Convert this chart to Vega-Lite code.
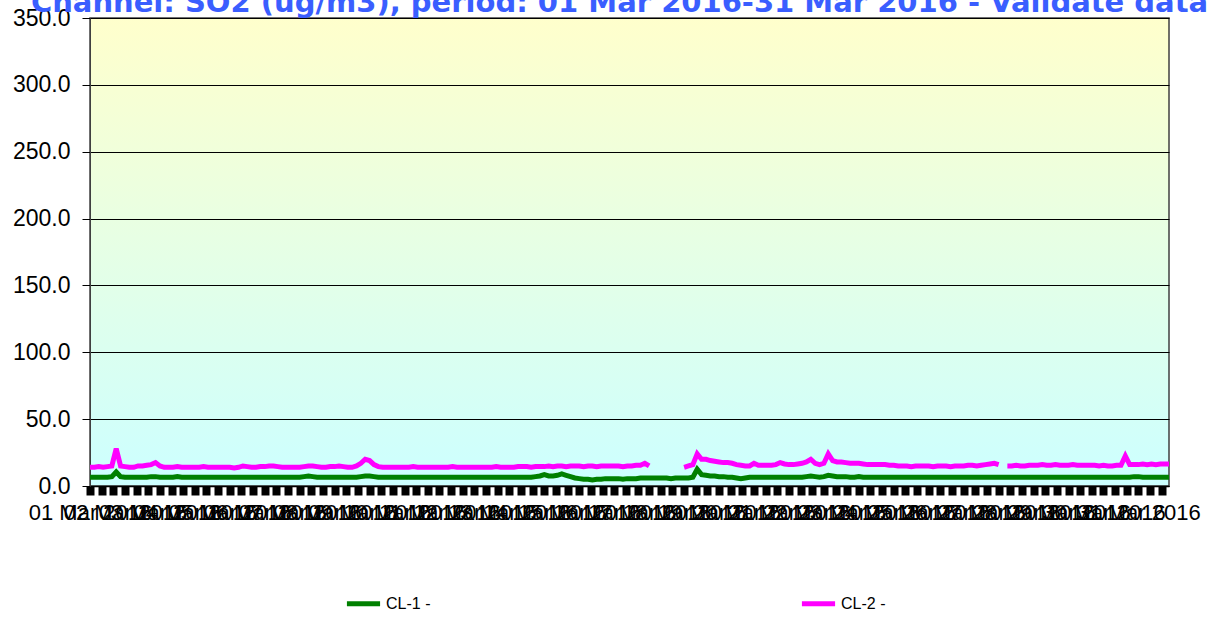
{
  "$schema": "https://vega.github.io/schema/vega-lite/v6.json",
  "width": 1079,
  "height": 468,
  "autosize": {"type": "none"},
  "padding": {"left": 90, "top": 18, "right": 46, "bottom": 132},
  "background": "white",
  "title": {
    "text": "Channel: SO2 (ug/m3), period: 01 Mar 2016-31 Mar 2016 - Validate data",
    "font": "DejaVu Sans",
    "fontSize": 29,
    "fontWeight": "bold",
    "color": "#3a5eff",
    "anchor": "middle",
    "frame": "group",
    "dx": -10,
    "offset": -11
  },
  "config": {
    "view": {
      "stroke": "#404040",
      "strokeWidth": 1.5,
      "fill": {
        "gradient": "linear",
        "x1": 0, "y1": 0, "x2": 0, "y2": 1,
        "stops": [
          {"offset": 0, "color": "#ffffcc"},
          {"offset": 1, "color": "#ccffff"}
        ]
      }
    },
    "axis": {"labelFont": "Liberation Sans", "labelColor": "#000000"}
  },
  "data": {"values": [
    {"t":"2016-03-01T00:00","a":6.5,"b":14},{"t":"2016-03-01T03:00","a":6.5,"b":14},{"t":"2016-03-01T06:00","a":6.5,"b":14.5},{"t":"2016-03-01T09:00","a":6.5,"b":14},{"t":"2016-03-01T12:00","a":6.5,"b":14.5},{"t":"2016-03-01T15:00","a":7,"b":15},{"t":"2016-03-01T18:00","a":10.5,"b":28},{"t":"2016-03-01T21:00","a":7,"b":15},
    {"t":"2016-03-02T00:00","a":6.5,"b":14.5},{"t":"2016-03-02T03:00","a":6.5,"b":14},{"t":"2016-03-02T06:00","a":6.5,"b":14},{"t":"2016-03-02T09:00","a":6.5,"b":15},{"t":"2016-03-02T12:00","a":6.5,"b":15},{"t":"2016-03-02T15:00","a":6.5,"b":15.5},{"t":"2016-03-02T18:00","a":7,"b":16},{"t":"2016-03-02T21:00","a":7,"b":17.5},
    {"t":"2016-03-03T00:00","a":6.5,"b":15},{"t":"2016-03-03T03:00","a":6.5,"b":14},{"t":"2016-03-03T06:00","a":6.5,"b":14},{"t":"2016-03-03T09:00","a":6.5,"b":14},{"t":"2016-03-03T12:00","a":7,"b":14.5},{"t":"2016-03-03T15:00","a":6.5,"b":14},{"t":"2016-03-03T18:00","a":6.5,"b":14},{"t":"2016-03-03T21:00","a":6.5,"b":14},
    {"t":"2016-03-04T00:00","a":6.5,"b":14},{"t":"2016-03-04T03:00","a":6.5,"b":14},{"t":"2016-03-04T06:00","a":6.5,"b":14.5},{"t":"2016-03-04T09:00","a":6.5,"b":14},{"t":"2016-03-04T12:00","a":6.5,"b":14},{"t":"2016-03-04T15:00","a":6.5,"b":14},{"t":"2016-03-04T18:00","a":6.5,"b":14},{"t":"2016-03-04T21:00","a":6.5,"b":14},
    {"t":"2016-03-05T00:00","a":6.5,"b":14},{"t":"2016-03-05T03:00","a":6.5,"b":13.5},{"t":"2016-03-05T06:00","a":6.5,"b":14},{"t":"2016-03-05T09:00","a":6.5,"b":15},{"t":"2016-03-05T12:00","a":6.5,"b":14.5},{"t":"2016-03-05T15:00","a":6.5,"b":14},{"t":"2016-03-05T18:00","a":6.5,"b":14},{"t":"2016-03-05T21:00","a":6.5,"b":14.5},
    {"t":"2016-03-06T00:00","a":6.5,"b":14.5},{"t":"2016-03-06T03:00","a":6.5,"b":15},{"t":"2016-03-06T06:00","a":6.5,"b":15},{"t":"2016-03-06T09:00","a":6.5,"b":14.5},{"t":"2016-03-06T12:00","a":6.5,"b":14},{"t":"2016-03-06T15:00","a":6.5,"b":14},{"t":"2016-03-06T18:00","a":6.5,"b":14},{"t":"2016-03-06T21:00","a":6.5,"b":14},
    {"t":"2016-03-07T00:00","a":6.5,"b":14},{"t":"2016-03-07T03:00","a":7,"b":14.5},{"t":"2016-03-07T06:00","a":7.5,"b":15},{"t":"2016-03-07T09:00","a":7,"b":15},{"t":"2016-03-07T12:00","a":6.5,"b":14.5},{"t":"2016-03-07T15:00","a":6.5,"b":14},{"t":"2016-03-07T18:00","a":6.5,"b":14},{"t":"2016-03-07T21:00","a":6.5,"b":14.5},
    {"t":"2016-03-08T00:00","a":6.5,"b":14.5},{"t":"2016-03-08T03:00","a":6.5,"b":15},{"t":"2016-03-08T06:00","a":6.5,"b":14.5},{"t":"2016-03-08T09:00","a":6.5,"b":14},{"t":"2016-03-08T12:00","a":6.5,"b":14},{"t":"2016-03-08T15:00","a":6.5,"b":15},{"t":"2016-03-08T18:00","a":7,"b":17},{"t":"2016-03-08T21:00","a":7.5,"b":20},
    {"t":"2016-03-09T00:00","a":7.5,"b":19},{"t":"2016-03-09T03:00","a":7,"b":16},{"t":"2016-03-09T06:00","a":6.5,"b":14.5},{"t":"2016-03-09T09:00","a":6.5,"b":14},{"t":"2016-03-09T12:00","a":6.5,"b":14},{"t":"2016-03-09T15:00","a":6.5,"b":14},{"t":"2016-03-09T18:00","a":6.5,"b":14},{"t":"2016-03-09T21:00","a":6.5,"b":14},
    {"t":"2016-03-10T00:00","a":6.5,"b":14},{"t":"2016-03-10T03:00","a":6.5,"b":14},{"t":"2016-03-10T06:00","a":6.5,"b":14.5},{"t":"2016-03-10T09:00","a":6.5,"b":14},{"t":"2016-03-10T12:00","a":6.5,"b":14},{"t":"2016-03-10T15:00","a":6.5,"b":14},{"t":"2016-03-10T18:00","a":6.5,"b":14},{"t":"2016-03-10T21:00","a":6.5,"b":14},
    {"t":"2016-03-11T00:00","a":6.5,"b":14},{"t":"2016-03-11T03:00","a":6.5,"b":14},{"t":"2016-03-11T06:00","a":6.5,"b":14},{"t":"2016-03-11T09:00","a":6.5,"b":14.5},{"t":"2016-03-11T12:00","a":6.5,"b":14},{"t":"2016-03-11T15:00","a":6.5,"b":14},{"t":"2016-03-11T18:00","a":6.5,"b":14},{"t":"2016-03-11T21:00","a":6.5,"b":14},
    {"t":"2016-03-12T00:00","a":6.5,"b":14},{"t":"2016-03-12T03:00","a":6.5,"b":14},{"t":"2016-03-12T06:00","a":6.5,"b":14},{"t":"2016-03-12T09:00","a":6.5,"b":14},{"t":"2016-03-12T12:00","a":6.5,"b":14},{"t":"2016-03-12T15:00","a":6.5,"b":14.5},{"t":"2016-03-12T18:00","a":6.5,"b":14},{"t":"2016-03-12T21:00","a":6.5,"b":14},
    {"t":"2016-03-13T00:00","a":6.5,"b":14},{"t":"2016-03-13T03:00","a":6.5,"b":14},{"t":"2016-03-13T06:00","a":6.5,"b":14.5},{"t":"2016-03-13T09:00","a":6.5,"b":14.5},{"t":"2016-03-13T12:00","a":6.5,"b":14.5},{"t":"2016-03-13T15:00","a":6.5,"b":14},{"t":"2016-03-13T18:00","a":7,"b":14.5},{"t":"2016-03-13T21:00","a":7.5,"b":14.5},
    {"t":"2016-03-14T00:00","a":8.5,"b":14.5},{"t":"2016-03-14T03:00","a":7.5,"b":15},{"t":"2016-03-14T06:00","a":7.5,"b":14.5},{"t":"2016-03-14T09:00","a":8,"b":15},{"t":"2016-03-14T12:00","a":9,"b":15},{"t":"2016-03-14T15:00","a":8,"b":14.5},{"t":"2016-03-14T18:00","a":7,"b":15},{"t":"2016-03-14T21:00","a":6,"b":15},
    {"t":"2016-03-15T00:00","a":5.5,"b":15},{"t":"2016-03-15T03:00","a":5,"b":14.5},{"t":"2016-03-15T06:00","a":5,"b":15},{"t":"2016-03-15T09:00","a":4.5,"b":15},{"t":"2016-03-15T12:00","a":5,"b":14.5},{"t":"2016-03-15T15:00","a":5,"b":15},{"t":"2016-03-15T18:00","a":5.5,"b":15},{"t":"2016-03-15T21:00","a":5.5,"b":15},
    {"t":"2016-03-16T00:00","a":5.5,"b":15},{"t":"2016-03-16T03:00","a":5.5,"b":15},{"t":"2016-03-16T06:00","a":5,"b":14.5},{"t":"2016-03-16T09:00","a":5.5,"b":15},{"t":"2016-03-16T12:00","a":5.5,"b":15},{"t":"2016-03-16T15:00","a":5.5,"b":15.5},{"t":"2016-03-16T18:00","a":6,"b":15.5},{"t":"2016-03-16T21:00","a":6,"b":17},
    {"t":"2016-03-17T00:00","a":6,"b":15},{"t":"2016-03-17T03:00","a":6,"b":null},{"t":"2016-03-17T06:00","a":6,"b":null},{"t":"2016-03-17T09:00","a":6,"b":null},{"t":"2016-03-17T12:00","a":6,"b":null},{"t":"2016-03-17T15:00","a":5.5,"b":null},{"t":"2016-03-17T18:00","a":6,"b":null},{"t":"2016-03-17T21:00","a":6,"b":null},
    {"t":"2016-03-18T00:00","a":6,"b":14},{"t":"2016-03-18T03:00","a":6,"b":15},{"t":"2016-03-18T06:00","a":6.5,"b":16},{"t":"2016-03-18T09:00","a":12.5,"b":24},{"t":"2016-03-18T12:00","a":8.5,"b":20},{"t":"2016-03-18T15:00","a":8,"b":20},{"t":"2016-03-18T18:00","a":7.5,"b":19},{"t":"2016-03-18T21:00","a":7.5,"b":18.5},
    {"t":"2016-03-19T00:00","a":7,"b":18},{"t":"2016-03-19T03:00","a":7,"b":17.5},{"t":"2016-03-19T06:00","a":6.5,"b":17.5},{"t":"2016-03-19T09:00","a":6.5,"b":17},{"t":"2016-03-19T12:00","a":6,"b":16},{"t":"2016-03-19T15:00","a":5.5,"b":15.5},{"t":"2016-03-19T18:00","a":6,"b":15},{"t":"2016-03-19T21:00","a":6.5,"b":15},
    {"t":"2016-03-20T00:00","a":6.5,"b":17},{"t":"2016-03-20T03:00","a":6.5,"b":15.5},{"t":"2016-03-20T06:00","a":6.5,"b":15.5},{"t":"2016-03-20T09:00","a":6.5,"b":15.5},{"t":"2016-03-20T12:00","a":6.5,"b":15.5},{"t":"2016-03-20T15:00","a":6.5,"b":16},{"t":"2016-03-20T18:00","a":6.5,"b":17.5},{"t":"2016-03-20T21:00","a":6.5,"b":16.5},
    {"t":"2016-03-21T00:00","a":6.5,"b":16},{"t":"2016-03-21T03:00","a":6.5,"b":16},{"t":"2016-03-21T06:00","a":6.5,"b":16.5},{"t":"2016-03-21T09:00","a":6.5,"b":17},{"t":"2016-03-21T12:00","a":7,"b":18},{"t":"2016-03-21T15:00","a":7.5,"b":20},{"t":"2016-03-21T18:00","a":7,"b":17},{"t":"2016-03-21T21:00","a":6.5,"b":16},
    {"t":"2016-03-22T00:00","a":7,"b":17},{"t":"2016-03-22T03:00","a":8,"b":24},{"t":"2016-03-22T06:00","a":7.5,"b":19},{"t":"2016-03-22T09:00","a":7,"b":18},{"t":"2016-03-22T12:00","a":7,"b":18},{"t":"2016-03-22T15:00","a":7,"b":17.5},{"t":"2016-03-22T18:00","a":6.5,"b":17},{"t":"2016-03-22T21:00","a":6.5,"b":17},
    {"t":"2016-03-23T00:00","a":7,"b":17},{"t":"2016-03-23T03:00","a":6.5,"b":16.5},{"t":"2016-03-23T06:00","a":6.5,"b":16},{"t":"2016-03-23T09:00","a":6.5,"b":16},{"t":"2016-03-23T12:00","a":6.5,"b":16},{"t":"2016-03-23T15:00","a":6.5,"b":16},{"t":"2016-03-23T18:00","a":6.5,"b":16},{"t":"2016-03-23T21:00","a":6.5,"b":15.5},
    {"t":"2016-03-24T00:00","a":6.5,"b":15.5},{"t":"2016-03-24T03:00","a":6.5,"b":15},{"t":"2016-03-24T06:00","a":6.5,"b":15},{"t":"2016-03-24T09:00","a":6.5,"b":15},{"t":"2016-03-24T12:00","a":6.5,"b":14.5},{"t":"2016-03-24T15:00","a":6.5,"b":15},{"t":"2016-03-24T18:00","a":6.5,"b":15},{"t":"2016-03-24T21:00","a":6.5,"b":15},
    {"t":"2016-03-25T00:00","a":6.5,"b":15},{"t":"2016-03-25T03:00","a":6.5,"b":14.5},{"t":"2016-03-25T06:00","a":6.5,"b":15},{"t":"2016-03-25T09:00","a":6.5,"b":15},{"t":"2016-03-25T12:00","a":6.5,"b":15},{"t":"2016-03-25T15:00","a":6.5,"b":14.5},{"t":"2016-03-25T18:00","a":6.5,"b":15},{"t":"2016-03-25T21:00","a":6.5,"b":15},
    {"t":"2016-03-26T00:00","a":6.5,"b":15},{"t":"2016-03-26T03:00","a":6.5,"b":15.5},{"t":"2016-03-26T06:00","a":6.5,"b":15.5},{"t":"2016-03-26T09:00","a":6.5,"b":15},{"t":"2016-03-26T12:00","a":6.5,"b":15.5},{"t":"2016-03-26T15:00","a":6.5,"b":16},{"t":"2016-03-26T18:00","a":6.5,"b":16.5},{"t":"2016-03-26T21:00","a":6.5,"b":17},
    {"t":"2016-03-27T00:00","a":6.5,"b":16},{"t":"2016-03-27T03:00","a":6.5,"b":null},{"t":"2016-03-27T06:00","a":6.5,"b":15},{"t":"2016-03-27T09:00","a":6.5,"b":15},{"t":"2016-03-27T12:00","a":6.5,"b":15.5},{"t":"2016-03-27T15:00","a":6.5,"b":15},{"t":"2016-03-27T18:00","a":6.5,"b":15},{"t":"2016-03-27T21:00","a":6.5,"b":15.5},
    {"t":"2016-03-28T00:00","a":6.5,"b":15.5},{"t":"2016-03-28T03:00","a":6.5,"b":15.5},{"t":"2016-03-28T06:00","a":6.5,"b":16},{"t":"2016-03-28T09:00","a":6.5,"b":15.5},{"t":"2016-03-28T12:00","a":6.5,"b":15.5},{"t":"2016-03-28T15:00","a":6.5,"b":16},{"t":"2016-03-28T18:00","a":6.5,"b":15.5},{"t":"2016-03-28T21:00","a":6.5,"b":15.5},
    {"t":"2016-03-29T00:00","a":6.5,"b":15.5},{"t":"2016-03-29T03:00","a":6.5,"b":16},{"t":"2016-03-29T06:00","a":6.5,"b":15.5},{"t":"2016-03-29T09:00","a":6.5,"b":15.5},{"t":"2016-03-29T12:00","a":6.5,"b":15.5},{"t":"2016-03-29T15:00","a":6.5,"b":15.5},{"t":"2016-03-29T18:00","a":6.5,"b":15.5},{"t":"2016-03-29T21:00","a":6.5,"b":15},
    {"t":"2016-03-30T00:00","a":6.5,"b":15.5},{"t":"2016-03-30T03:00","a":6.5,"b":15},{"t":"2016-03-30T06:00","a":6.5,"b":15},{"t":"2016-03-30T09:00","a":6.5,"b":15.5},{"t":"2016-03-30T12:00","a":6.5,"b":15.5},{"t":"2016-03-30T15:00","a":6.5,"b":22.5},{"t":"2016-03-30T18:00","a":6.5,"b":16},{"t":"2016-03-30T21:00","a":7,"b":16},
    {"t":"2016-03-31T00:00","a":7,"b":16},{"t":"2016-03-31T03:00","a":6.5,"b":16.5},{"t":"2016-03-31T06:00","a":6.5,"b":16},{"t":"2016-03-31T09:00","a":6.5,"b":16.5},{"t":"2016-03-31T12:00","a":6.5,"b":16},{"t":"2016-03-31T15:00","a":6.5,"b":16.5},{"t":"2016-03-31T18:00","a":6.5,"b":16.5},{"t":"2016-03-31T21:00","a":6.5,"b":16.5}
  ]},
  "layer": [
    {
      "mark": {"type": "line", "strokeWidth": 5},
      "encoding": {
        "x": {
          "field": "t", "type": "temporal",
          "scale": {"domain": [{"year": 2016, "month": 3, "date": 1, "hours": 0}, {"year": 2016, "month": 3, "date": 31, "hours": 21}]},
          "axis": {
            "title": null,
            "orient": "bottom",
            "values": [
              {"year":2016,"month":3,"date":1},{"year":2016,"month":3,"date":2},{"year":2016,"month":3,"date":3},{"year":2016,"month":3,"date":4},{"year":2016,"month":3,"date":5},{"year":2016,"month":3,"date":6},{"year":2016,"month":3,"date":7},{"year":2016,"month":3,"date":8},{"year":2016,"month":3,"date":9},{"year":2016,"month":3,"date":10},
              {"year":2016,"month":3,"date":11},{"year":2016,"month":3,"date":12},{"year":2016,"month":3,"date":13},{"year":2016,"month":3,"date":14},{"year":2016,"month":3,"date":15},{"year":2016,"month":3,"date":16},{"year":2016,"month":3,"date":17},{"year":2016,"month":3,"date":18},{"year":2016,"month":3,"date":19},{"year":2016,"month":3,"date":20},
              {"year":2016,"month":3,"date":21},{"year":2016,"month":3,"date":22},{"year":2016,"month":3,"date":23},{"year":2016,"month":3,"date":24},{"year":2016,"month":3,"date":25},{"year":2016,"month":3,"date":26},{"year":2016,"month":3,"date":27},{"year":2016,"month":3,"date":28},{"year":2016,"month":3,"date":29},{"year":2016,"month":3,"date":30},
              {"year":2016,"month":3,"date":31}
            ],
            "format": "%d %b %Y",
            "labelOverlap": false,
            "labelBound": false,
            "labelFlush": false,
            "labelFontSize": 22,
            "labelPadding": 16,
            "ticks": false,
            "domainColor": "#000000",
            "domainWidth": 1.5,
            "grid": false
          }
        },
        "y": {
          "field": "a", "type": "quantitative",
          "scale": {"domain": [0, 350], "nice": false},
          "axis": {
            "title": null,
            "values": [0, 50, 100, 150, 200, 250, 300, 350],
            "format": ".1f",
            "labelFontSize": 23,
            "labelPadding": 12,
            "tickSize": 8,
            "tickColor": "#000000",
            "domainColor": "#404040",
            "grid": true,
            "gridColor": "#000000",
            "gridWidth": 1,
            "gridOpacity": 1
          }
        },
        "color": {
          "datum": "CL-1 -",
          "type": "nominal",
          "scale": {"domain": ["CL-1 -", "CL-2 -"], "range": ["#008000", "#ff00ff"]},
          "legend": {
            "title": null,
            "orient": "none",
            "legendX": 254,
            "legendY": 566,
            "direction": "horizontal",
            "symbolType": "stroke",
            "symbolSize": 1100,
            "symbolStrokeWidth": 5,
            "labelFontSize": 16,
            "labelFont": "Liberation Sans",
            "labelColor": "#000000",
            "labelOffset": 3,
            "columnPadding": 360
          }
        }
      }
    },
    {
      "mark": {"type": "line", "strokeWidth": 5},
      "encoding": {
        "x": {
          "field": "t", "type": "temporal",
          "axis": {
            "title": null,
            "orient": "bottom",
            "values": [
              {"year":2016,"month":3,"date":1,"hours":0},{"year":2016,"month":3,"date":1,"hours":8},{"year":2016,"month":3,"date":1,"hours":16},
              {"year":2016,"month":3,"date":2,"hours":0},{"year":2016,"month":3,"date":2,"hours":8},{"year":2016,"month":3,"date":2,"hours":16},
              {"year":2016,"month":3,"date":3,"hours":0},{"year":2016,"month":3,"date":3,"hours":8},{"year":2016,"month":3,"date":3,"hours":16},
              {"year":2016,"month":3,"date":4,"hours":0},{"year":2016,"month":3,"date":4,"hours":8},{"year":2016,"month":3,"date":4,"hours":16},
              {"year":2016,"month":3,"date":5,"hours":0},{"year":2016,"month":3,"date":5,"hours":8},{"year":2016,"month":3,"date":5,"hours":16},
              {"year":2016,"month":3,"date":6,"hours":0},{"year":2016,"month":3,"date":6,"hours":8},{"year":2016,"month":3,"date":6,"hours":16},
              {"year":2016,"month":3,"date":7,"hours":0},{"year":2016,"month":3,"date":7,"hours":8},{"year":2016,"month":3,"date":7,"hours":16},
              {"year":2016,"month":3,"date":8,"hours":0},{"year":2016,"month":3,"date":8,"hours":8},{"year":2016,"month":3,"date":8,"hours":16},
              {"year":2016,"month":3,"date":9,"hours":0},{"year":2016,"month":3,"date":9,"hours":8},{"year":2016,"month":3,"date":9,"hours":16},
              {"year":2016,"month":3,"date":10,"hours":0},{"year":2016,"month":3,"date":10,"hours":8},{"year":2016,"month":3,"date":10,"hours":16},
              {"year":2016,"month":3,"date":11,"hours":0},{"year":2016,"month":3,"date":11,"hours":8},{"year":2016,"month":3,"date":11,"hours":16},
              {"year":2016,"month":3,"date":12,"hours":0},{"year":2016,"month":3,"date":12,"hours":8},{"year":2016,"month":3,"date":12,"hours":16},
              {"year":2016,"month":3,"date":13,"hours":0},{"year":2016,"month":3,"date":13,"hours":8},{"year":2016,"month":3,"date":13,"hours":16},
              {"year":2016,"month":3,"date":14,"hours":0},{"year":2016,"month":3,"date":14,"hours":8},{"year":2016,"month":3,"date":14,"hours":16},
              {"year":2016,"month":3,"date":15,"hours":0},{"year":2016,"month":3,"date":15,"hours":8},{"year":2016,"month":3,"date":15,"hours":16},
              {"year":2016,"month":3,"date":16,"hours":0},{"year":2016,"month":3,"date":16,"hours":8},{"year":2016,"month":3,"date":16,"hours":16},
              {"year":2016,"month":3,"date":17,"hours":0},{"year":2016,"month":3,"date":17,"hours":8},{"year":2016,"month":3,"date":17,"hours":16},
              {"year":2016,"month":3,"date":18,"hours":0},{"year":2016,"month":3,"date":18,"hours":8},{"year":2016,"month":3,"date":18,"hours":16},
              {"year":2016,"month":3,"date":19,"hours":0},{"year":2016,"month":3,"date":19,"hours":8},{"year":2016,"month":3,"date":19,"hours":16},
              {"year":2016,"month":3,"date":20,"hours":0},{"year":2016,"month":3,"date":20,"hours":8},{"year":2016,"month":3,"date":20,"hours":16},
              {"year":2016,"month":3,"date":21,"hours":0},{"year":2016,"month":3,"date":21,"hours":8},{"year":2016,"month":3,"date":21,"hours":16},
              {"year":2016,"month":3,"date":22,"hours":0},{"year":2016,"month":3,"date":22,"hours":8},{"year":2016,"month":3,"date":22,"hours":16},
              {"year":2016,"month":3,"date":23,"hours":0},{"year":2016,"month":3,"date":23,"hours":8},{"year":2016,"month":3,"date":23,"hours":16},
              {"year":2016,"month":3,"date":24,"hours":0},{"year":2016,"month":3,"date":24,"hours":8},{"year":2016,"month":3,"date":24,"hours":16},
              {"year":2016,"month":3,"date":25,"hours":0},{"year":2016,"month":3,"date":25,"hours":8},{"year":2016,"month":3,"date":25,"hours":16},
              {"year":2016,"month":3,"date":26,"hours":0},{"year":2016,"month":3,"date":26,"hours":8},{"year":2016,"month":3,"date":26,"hours":16},
              {"year":2016,"month":3,"date":27,"hours":0},{"year":2016,"month":3,"date":27,"hours":8},{"year":2016,"month":3,"date":27,"hours":16},
              {"year":2016,"month":3,"date":28,"hours":0},{"year":2016,"month":3,"date":28,"hours":8},{"year":2016,"month":3,"date":28,"hours":16},
              {"year":2016,"month":3,"date":29,"hours":0},{"year":2016,"month":3,"date":29,"hours":8},{"year":2016,"month":3,"date":29,"hours":16},
              {"year":2016,"month":3,"date":30,"hours":0},{"year":2016,"month":3,"date":30,"hours":8},{"year":2016,"month":3,"date":30,"hours":16},
              {"year":2016,"month":3,"date":31,"hours":0},{"year":2016,"month":3,"date":31,"hours":8},{"year":2016,"month":3,"date":31,"hours":16}
            ],
            "labels": false,
            "domain": false,
            "tickSize": 9,
            "tickWidth": 8,
            "tickColor": "#000000",
            "grid": false
          }
        },
        "y": {"field": "b", "type": "quantitative"},
        "color": {"datum": "CL-2 -", "type": "nominal"}
      }
    }
  ],
  "resolve": {"axis": {"x": "independent"}}
}
